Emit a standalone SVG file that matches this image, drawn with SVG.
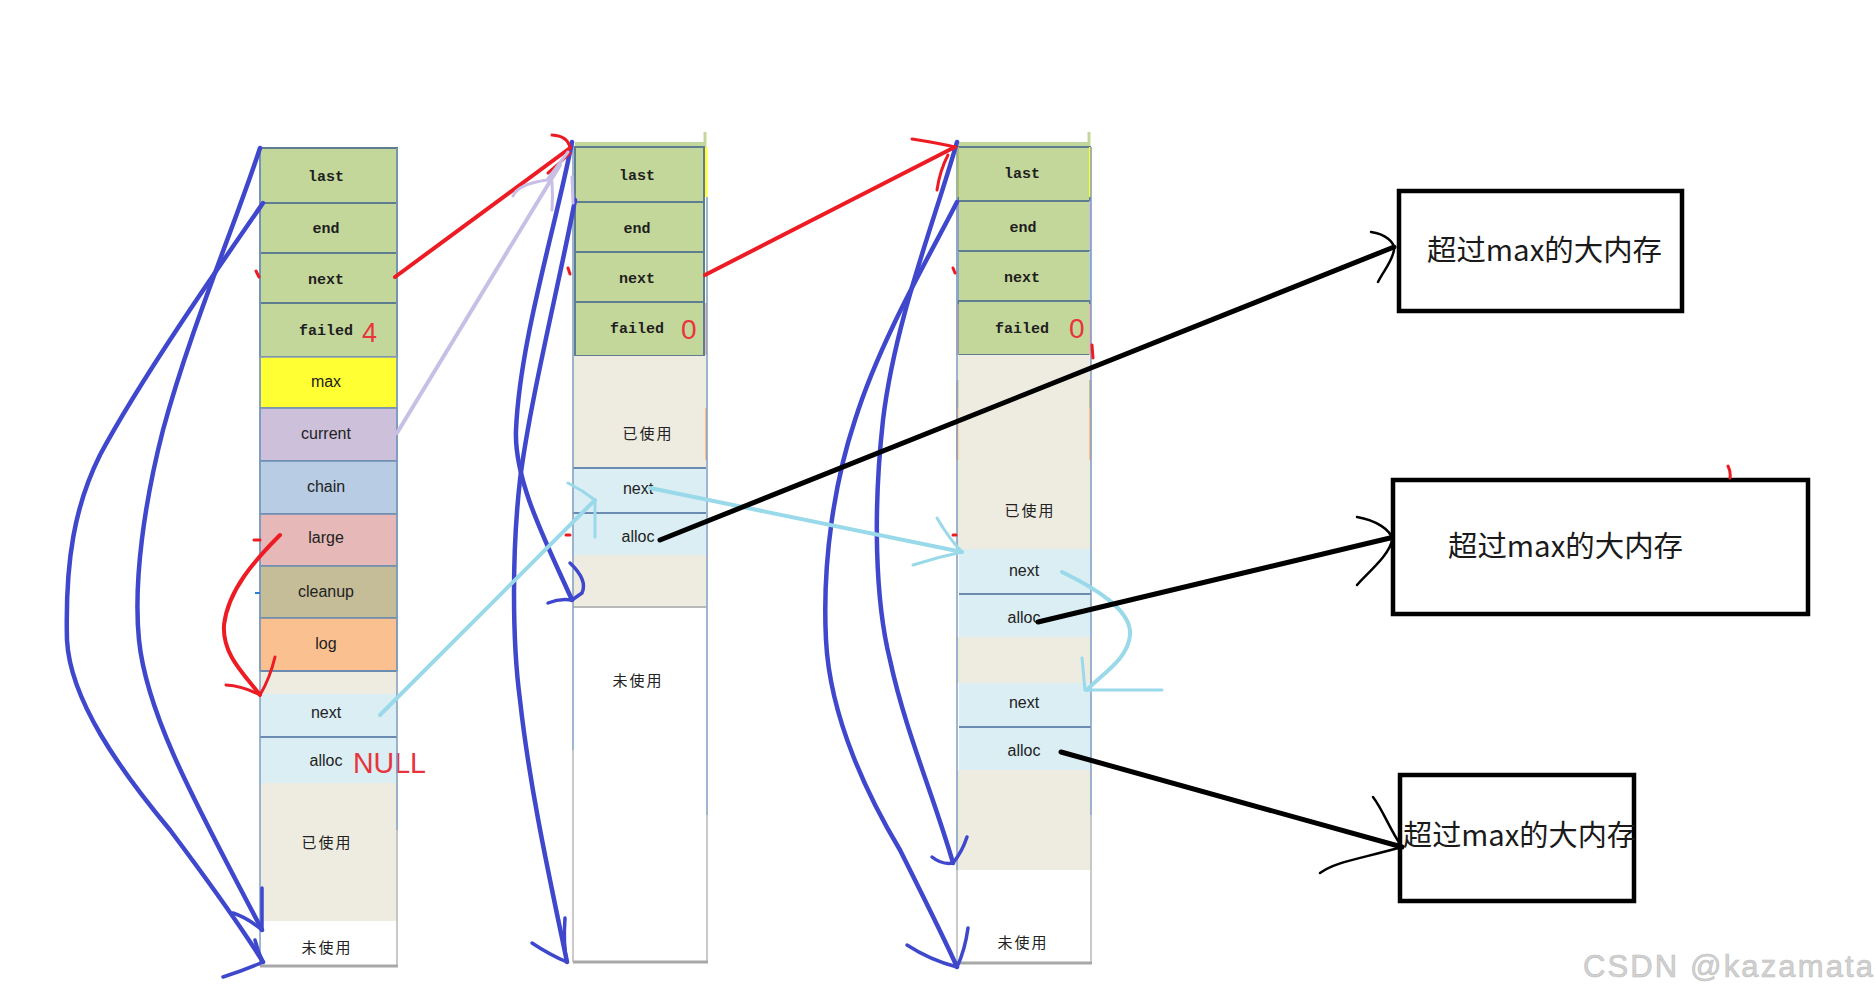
<svg xmlns="http://www.w3.org/2000/svg" width="1875" height="998" viewBox="0 0 1875 998">
<style>
.gr{fill:#c4d79b;stroke:#5e7d90;stroke-width:2}
.ye{fill:#ffff33;stroke:#8a9fb8;stroke-width:1.5}
.la{fill:#ccc0da;stroke:#6b8cb0;stroke-width:1.5}
.bl{fill:#b8cce4;stroke:#6b8cb0;stroke-width:1.5}
.pk{fill:#e6b9b8;stroke:#6b8cb0;stroke-width:1.5}
.kh{fill:#c4bd97;stroke:#6b8cb0;stroke-width:1.5}
.or{fill:#fac090;stroke:#6b8cb0;stroke-width:1.5}
.be{fill:#eeece1}
.lb{fill:#daeef3}
.wh{fill:#ffffff}
.edge{fill:none;stroke:#7e9cc0;stroke-width:1.5}
.gedge{fill:none;stroke:#b8b8b8;stroke-width:1.5}
.sep{stroke:#6b8cb0;stroke-width:2}
.base{stroke:#a8a8a8;stroke-width:3}
.m{font-family:"Liberation Mono","DejaVu Sans Mono",monospace;font-weight:bold;font-size:15px;fill:#1e1e1e;text-anchor:middle}
.s{font-family:"Liberation Sans",Arial,sans-serif;font-size:16px;fill:#222;text-anchor:middle}
.c{font-family:"Noto Sans CJK SC",sans-serif;font-size:15px;fill:#222;text-anchor:middle;letter-spacing:2px}
.num{font-family:"Liberation Sans",Arial,sans-serif;fill:#e8343c}
.big{font-family:"Noto Sans CJK SC",sans-serif;font-size:29px;fill:#1a1a1a}
.wm{font-family:"Liberation Sans",Arial,sans-serif;font-size:31px;fill:#d2d2d2;stroke:#bdbdbd;stroke-width:0.6}
.box{fill:#fff;stroke:#000;stroke-width:4.5}
.blue{fill:none;stroke:#3f48cc;stroke-width:4.5;stroke-linecap:round;stroke-linejoin:round}
.bluh{fill:none;stroke:#3f48cc;stroke-width:3.5;stroke-linecap:round;stroke-linejoin:round}
.red{fill:none;stroke:#ed1c24;stroke-width:4;stroke-linecap:round;stroke-linejoin:round}
.redh{fill:none;stroke:#ed1c24;stroke-width:3;stroke-linecap:round;stroke-linejoin:round}
.lav{fill:none;stroke:#c8bfe7;stroke-width:4;stroke-linecap:round;stroke-linejoin:round}
.lavh{fill:none;stroke:#c8bfe7;stroke-width:3;stroke-linecap:round;stroke-linejoin:round}
.sky{fill:none;stroke:#99d9ea;stroke-width:4;stroke-linecap:round;stroke-linejoin:round}
.skyh{fill:none;stroke:#99d9ea;stroke-width:3;stroke-linecap:round;stroke-linejoin:round}
.blk{fill:none;stroke:#000;stroke-width:5;stroke-linecap:round}
.blkh{fill:none;stroke:#000;stroke-width:2.5;stroke-linecap:round;stroke-linejoin:round}
</style>

<!-- Column 1 -->
<g id="col1">
  <g id="c1-last"><rect class="gr" x="260" y="148" width="137" height="55"/><text class="m" x="326" y="181">last</text></g>
  <g id="c1-end"><rect class="gr" x="260" y="203" width="137" height="50"/><text class="m" x="326" y="233">end</text></g>
  <g id="c1-next"><rect class="gr" x="260" y="253" width="137" height="50"/><text class="m" x="326" y="284">next</text></g>
  <g id="c1-failed"><rect class="gr" x="260" y="303" width="137" height="54"/><text class="m" x="326" y="335" font-size="16">failed</text><text class="num" x="362" y="342" font-size="27">4</text></g>
  <g id="c1-max"><rect class="ye" x="260" y="357" width="137" height="51"/><text class="s" x="326" y="387">max</text></g>
  <g id="c1-current"><rect class="la" x="260" y="408" width="137" height="53"/><text class="s" x="326" y="439">current</text></g>
  <g id="c1-chain"><rect class="bl" x="260" y="461" width="137" height="53"/><text class="s" x="326" y="492">chain</text></g>
  <g id="c1-large"><rect class="pk" x="260" y="514" width="137" height="52"/><text class="s" x="326" y="543">large</text></g>
  <g id="c1-cleanup"><rect class="kh" x="260" y="566" width="137" height="52"/><text class="s" x="326" y="597">cleanup</text></g>
  <g id="c1-log"><rect class="or" x="260" y="618" width="137" height="53"/><text class="s" x="326" y="649">log</text></g>
  <rect class="be" x="260" y="672" width="137" height="22"/>
  <g id="c1-next2"><rect class="lb" x="260" y="694" width="137" height="43"/><text class="s" x="326" y="718" font-size="15">next</text></g>
  <g id="c1-alloc"><rect class="lb" x="260" y="737" width="137" height="46"/><text class="s" x="326" y="766" font-size="15">alloc</text><text class="num" x="353" y="773" font-size="30" textLength="73" lengthAdjust="spacingAndGlyphs">NULL</text></g>
  <g id="c1-used"><rect class="be" x="260" y="783" width="138" height="138"/><text class="c" x="327" y="848">已使用</text></g>
  <g id="c1-unused"><rect class="wh" x="260" y="921" width="137" height="45"/><text class="c" x="327" y="953">未使用</text></g>
  <line class="sep" x1="260" y1="737" x2="397" y2="737"/>
  <line class="sep" x1="260" y1="671" x2="397" y2="671"/>
  <line class="edge" x1="260" y1="148" x2="260" y2="966"/>
  <line class="edge" x1="397" y1="148" x2="397" y2="830"/>
  <line class="gedge" x1="397" y1="830" x2="397" y2="966"/>
  <line class="base" x1="260" y1="966" x2="398" y2="966"/>
</g>

<!-- Column 2 -->
<g id="col2">
  <rect x="575" y="142" width="130" height="5" fill="#c4d79b"/>
  <line x1="705" y1="132" x2="705" y2="147" stroke="#c4d79b" stroke-width="3"/>
  <g id="c2-last"><rect class="gr" x="575" y="147" width="129" height="55"/><text class="m" x="637" y="180">last</text></g>
  <g id="c2-end"><rect class="gr" x="575" y="202" width="129" height="50"/><text class="m" x="637" y="233">end</text></g>
  <g id="c2-next"><rect class="gr" x="575" y="252" width="129" height="50"/><text class="m" x="637" y="283">next</text></g>
  <g id="c2-failed"><rect class="gr" x="575" y="302" width="129" height="54"/><text class="m" x="637" y="333" font-size="16">failed</text><text class="num" x="681" y="339" font-size="28">0</text></g>
  <g id="c2-used"><rect class="be" x="573" y="356" width="133" height="112"/><text class="c" x="648" y="439">已使用</text></g>
  <g id="c2-next2"><rect class="lb" x="573" y="468" width="133" height="45"/><text class="s" x="638" y="494" font-size="15">next</text></g>
  <g id="c2-alloc"><rect class="lb" x="573" y="513" width="133" height="42"/><text class="s" x="638" y="542" font-size="15">alloc</text></g>
  <rect class="be" x="573" y="555" width="133" height="52"/>
  <g id="c2-unused"><rect class="wh" x="573" y="607" width="133" height="355"/><text class="c" x="638" y="686">未使用</text></g>
  <line class="sep" x1="573" y1="513" x2="706" y2="513"/>
  <line class="sep" x1="573" y1="468" x2="706" y2="468" stroke="#d8eef4"/>
  <line x1="573" y1="607" x2="706" y2="607" stroke="#b8b8b8" stroke-width="2"/>
  <rect x="705" y="147" width="2.5" height="50" fill="#ffff33"/>
  <rect x="705" y="303" width="2" height="52" fill="#e6b9b8"/>
  <rect x="705" y="408" width="2" height="52" fill="#fac090"/>
  <line class="edge" x1="573" y1="142" x2="573" y2="750"/>
  <line class="gedge" x1="573" y1="750" x2="573" y2="962"/>
  <line class="edge" x1="707" y1="197" x2="707" y2="815"/>
  <line class="gedge" x1="707" y1="815" x2="707" y2="962"/>
  <line class="base" x1="573" y1="962" x2="708" y2="962"/>
</g>

<!-- Column 3 -->
<g id="col3">
  <rect x="958" y="142" width="131" height="5" fill="#c4d79b"/>
  <line x1="1089" y1="132" x2="1089" y2="147" stroke="#c4d79b" stroke-width="3"/>
  <g id="c3-last"><rect class="gr" x="958" y="147" width="132" height="54"/><text class="m" x="1022" y="178">last</text></g>
  <g id="c3-end"><rect class="gr" x="958" y="201" width="132" height="50"/><text class="m" x="1023" y="232">end</text></g>
  <g id="c3-next"><rect class="gr" x="958" y="251" width="132" height="50"/><text class="m" x="1022" y="282">next</text></g>
  <g id="c3-failed"><rect class="gr" x="958" y="301" width="132" height="54"/><text class="m" x="1022" y="333" font-size="16">failed</text><text class="num" x="1069" y="338" font-size="28">0</text></g>
  <g id="c3-used"><rect class="be" x="957" y="355" width="134" height="194"/><text class="c" x="1030" y="516">已使用</text></g>
  <g id="c3-next2"><rect class="lb" x="959" y="549" width="132" height="45"/><text class="s" x="1024" y="576" font-size="15">next</text></g>
  <g id="c3-alloc"><rect class="lb" x="959" y="594" width="132" height="43"/><text class="s" x="1024" y="623" font-size="15">alloc</text></g>
  <rect class="be" x="957" y="637" width="134" height="46"/>
  <g id="c3-next3"><rect class="lb" x="959" y="683" width="132" height="44"/><text class="s" x="1024" y="708" font-size="15">next</text></g>
  <g id="c3-alloc2"><rect class="lb" x="959" y="727" width="132" height="43"/><text class="s" x="1024" y="756" font-size="15">alloc</text></g>
  <rect class="be" x="957" y="770" width="134" height="100"/>
  <g id="c3-unused"><rect class="wh" x="957" y="870" width="134" height="93"/><text class="c" x="1023" y="948">未使用</text></g>
  <line class="sep" x1="959" y1="594" x2="1091" y2="594"/>
  <line class="sep" x1="959" y1="727" x2="1091" y2="727"/>
  <rect x="956" y="147" width="2.5" height="50" fill="#ffff33"/>
  <rect x="956" y="201" width="2.5" height="49" fill="#ccc0da"/>
  <rect x="956" y="251" width="2.5" height="49" fill="#b8cce4"/>
  <rect x="956" y="304" width="2.5" height="51" fill="#e6b9b8"/>
  <rect x="956" y="380" width="2.5" height="28" fill="#c4bd97"/>
  <rect x="956" y="408" width="2.5" height="52" fill="#fac090"/>
  <rect x="1089" y="147" width="2.5" height="50" fill="#ffff33"/>
  <rect x="1089" y="201" width="2.5" height="49" fill="#ccc0da"/>
  <rect x="1089" y="251" width="2.5" height="49" fill="#b8cce4"/>
  <rect x="1089" y="304" width="2.5" height="51" fill="#e6b9b8"/>
  <rect x="1089" y="380" width="2.5" height="28" fill="#c4bd97"/>
  <rect x="1089" y="408" width="2.5" height="52" fill="#fac090"/>
  <line class="edge" x1="957" y1="142" x2="957" y2="870"/>
  <line class="gedge" x1="957" y1="870" x2="957" y2="963"/>
  <line class="edge" x1="1091" y1="147" x2="1091" y2="815"/>
  <line class="gedge" x1="1091" y1="815" x2="1091" y2="963"/>
  <line class="base" x1="957" y1="963" x2="1092" y2="963"/>
</g>

<!-- Large memory boxes -->
<g id="big1"><rect class="box" x="1399" y="191" width="283" height="120"/><text class="big" x="1427" y="261" textLength="235" lengthAdjust="spacingAndGlyphs">超过max的大内存</text></g>
<g id="big2"><rect class="box" x="1393" y="480" width="415" height="134"/><text class="big" x="1448" y="557" textLength="235" lengthAdjust="spacingAndGlyphs">超过max的大内存</text></g>
<g id="big3"><rect class="box" x="1400" y="775" width="234" height="126"/><text class="big" x="1403" y="846" textLength="233" lengthAdjust="spacingAndGlyphs">超过max的大内存</text></g>

<!-- Connectors -->
<g id="connectors">
  <!-- blue: last/end pointers, column 1 -->
  <path class="blue" d="M260,148 C235,225 190,330 163,430 C145,500 133,580 139,640 C147,720 205,820 262,930"/>
  <path class="bluh" d="M262,888 L262,930 M233,913 Q248,918 262,930"/>
  <path class="blue" d="M263,203 C220,265 140,380 100,455 C75,505 65,560 67,640 C70,700 120,770 170,830 C200,870 240,925 263,962"/>
  <path class="bluh" d="M255,940 Q258,952 263,962 M223,977 Q245,970 263,962"/>
  <!-- blue: column 2 -->
  <path class="blue" d="M572,142 C555,230 520,340 516,430 C514,480 545,540 572,600"/>
  <path class="bluh" d="M570,563 Q588,580 582,593 L572,600 M548,603 Q560,598 572,600"/>
  <path class="blue" d="M575,200 C560,280 530,400 520,480 C512,550 512,640 520,700 C530,790 550,880 567,962"/>
  <path class="bluh" d="M565,918 Q563,945 567,962 M532,943 Q550,955 567,962"/>
  <!-- blue: column 3 -->
  <path class="blue" d="M957,142 C935,220 895,320 883,420 C873,510 875,600 890,660 C905,730 935,800 953,863"/>
  <path class="bluh" d="M967,837 Q962,852 953,863 M932,857 Q942,865 953,863"/>
  <path class="blue" d="M957,202 C930,255 880,340 855,420 C835,480 822,560 826,640 C830,720 870,800 900,850 C920,890 945,940 957,967"/>
  <path class="bluh" d="M968,928 Q965,950 957,967 M907,945 Q930,960 957,967"/>

  <!-- red: next pointers -->
  <path class="red" d="M395,277 L570,148"/>
  <path class="redh" d="M552,135 Q568,136 570,148 M570,153 Q560,163 548,173"/>
  <path class="red" d="M705,275 L955,147"/>
  <path class="redh" d="M912,139 Q938,143 955,147 M948,155 Q940,170 937,190"/>
  <!-- red: large -> first large node -->
  <path class="red" d="M280,535 C255,560 228,590 224,625 C222,655 245,675 260,695"/>
  <path class="redh" d="M275,657 Q270,678 260,695 M226,685 Q243,686 260,695"/>

  <!-- lavender: current -->
  <path class="lav" d="M397,433 L560,165"/>
  <path class="lavh" d="M513,196 Q518,184 547,180 L568,152 M552,182 Q553,196 552,210 M572,177 L573,203"/>

  <!-- sky blue: large list -->
  <path class="sky" d="M380,715 L595,500"/>
  <path class="skyh" d="M568,483 Q582,490 595,500 L595,537"/>
  <path class="sky" d="M650,488 L962,552"/>
  <path class="skyh" d="M937,518 Q950,540 962,552 M913,565 Q938,557 962,552"/>
  <path class="sky" d="M1062,572 C1095,588 1132,610 1130,635 C1128,660 1100,675 1087,690"/>
  <path class="skyh" d="M1082,658 L1085,690 L1162,690"/>

  <!-- black: alloc -> large memory -->
  <path class="blk" d="M660,540 L1394,247"/>
  <path class="blkh" d="M1371,232 C1385,234 1395,242 1394,250 C1392,262 1384,270 1378,282"/>
  <path class="blk" d="M1038,622 L1390,538"/>
  <path class="blkh" d="M1357,517 C1375,520 1392,530 1392,540 C1390,555 1365,575 1357,585"/>
  <path class="blk" d="M1061,752 L1402,847"/>
  <path class="blkh" d="M1373,797 C1383,810 1390,830 1402,847 M1320,873 C1335,862 1355,860 1402,847"/>

  <!-- small stray marks -->
  <path class="redh" d="M254,540 L260,540 M256,271 L259,277 M568,268 L570,274 M566,535 L570,535 M953,268 L955,273 M953,535 L956,535 M1092,345 L1093,358 M1728,466 Q1731,472 1730,478" stroke-width="2"/>
  <path d="M255,593 L260,593" stroke="#2a7fd4" stroke-width="2"/>
</g>

<text class="wm" x="1583" y="977" textLength="290" lengthAdjust="spacing">CSDN @kazamata</text>
</svg>
